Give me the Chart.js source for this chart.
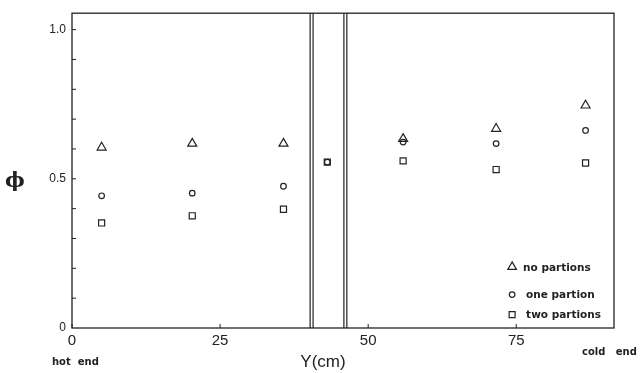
<!DOCTYPE html>
<html>
<head>
<meta charset="utf-8">
<script src="https://cdn.jsdelivr.net/npm/chart.js@4/dist/chart.umd.min.js"></script>
<style>
  html, body { margin: 0; padding: 0; background: #fff; }
  #wrap { width: 643px; height: 373px; position: relative; }
</style>
</head>
<body>
<div id="wrap"><canvas id="phiChart"></canvas></div>
<script>
// positions along the tube (cm)
const positions = [5, 20.3, 35.7, 43.1, 55.9, 71.6, 86.7];
const noPartionsX = [5, 20.3, 35.7, 55.9, 71.6, 86.7];
const noPartions = [0.605, 0.618, 0.618, 0.634, 0.668, 0.746];
const onePartion = [0.443, 0.452, 0.475, 0.556, 0.623, 0.618, 0.662];
const twoPartions = [0.352, 0.376, 0.398, 0.556, 0.56, 0.531, 0.553];

const seriesNames = ["no partions", "one partion", "two partions"];
const seriesStyles = ["triangle", "circle", "rect"];

const xTicks = [0, 25, 50, 75];
const yMinorTicks = [0.1, 0.2, 0.3, 0.4, 0.5, 0.6, 0.7, 0.8, 0.9, 1.0];
const yLabels = { 0: "0", 0.5: "0.5", 1: "1.0" };
// partition walls drawn as two double lines
const wallLines = [40.2, 40.7, 45.9, 46.4];

const ink = "#222";

function pts(xs, ys) {
  return ys.map((y, i) => ({ x: xs[i], y: y }));
}

const decorPlugin = {
  id: "decor",
  afterDraw(chart) {
    const { ctx, chartArea, scales } = chart;
    const xs = scales.x, ys = scales.y;
    ctx.save();
    ctx.strokeStyle = ink;
    ctx.lineWidth = 1.3;
    ctx.strokeRect(chartArea.left, chartArea.top, chartArea.right - chartArea.left, chartArea.bottom - chartArea.top);

    // y minor ticks, inward
    ctx.lineWidth = 1;
    yMinorTicks.forEach(v => {
      const y = ys.getPixelForValue(v);
      ctx.beginPath();
      ctx.moveTo(chartArea.left, y);
      ctx.lineTo(chartArea.left + 4, y);
      ctx.stroke();
    });
    // x ticks, inward
    xTicks.forEach(v => {
      const x = xs.getPixelForValue(v);
      ctx.beginPath();
      ctx.moveTo(x, chartArea.bottom);
      ctx.lineTo(x, chartArea.bottom - 4);
      ctx.stroke();
    });

    // walls
    ctx.lineWidth = 1.2;
    wallLines.forEach(v => {
      const x = xs.getPixelForValue(v);
      ctx.beginPath();
      ctx.moveTo(x, chartArea.top);
      ctx.lineTo(x, chartArea.bottom);
      ctx.stroke();
    });

    // texts
    ctx.fillStyle = ink;
    ctx.textBaseline = "middle";
    ctx.textAlign = "center";
    ctx.font = "17px 'Liberation Sans', sans-serif";
    ctx.fillText("Y(cm)", 323, 362);
    ctx.font = "bold 21px 'DejaVu Serif', serif";
    ctx.fillText("\u03D5", 15, 182);
    ctx.font = "bold 10px 'DejaVu Sans', sans-serif";
    ctx.textAlign = "left";
    ctx.fillText("hot  end", 52, 362);
    ctx.fillText("cold   end", 582, 352);

    // legend
    const lx = xs.getPixelForValue(74.3);
    const rows = [ys.getPixelForValue(0.205), ys.getPixelForValue(0.112), ys.getPixelForValue(0.045)];
    ctx.font = "bold 10.5px 'DejaVu Sans', sans-serif";
    seriesNames.forEach((name, i) => {
      const r = i === 0 ? 5 : (i === 1 ? 2.8 : 4.2);
      ctx.lineWidth = 1.2;
      ctx.fillStyle = "rgba(0,0,0,0)";
      Chart.helpers.drawPoint(ctx, { pointStyle: seriesStyles[i], radius: r, borderWidth: 1.2 }, lx, rows[i]);
      ctx.fillStyle = ink;
      ctx.fillText(name, lx + (i === 0 ? 11 : 14), rows[i] + 1);
    });
    ctx.restore();
  }
};

const datasets = [
  { label: seriesNames[0], data: pts(noPartionsX, noPartions), pointStyle: "triangle", pointRadius: 5.2 },
  { label: seriesNames[1], data: pts(positions, onePartion), pointStyle: "circle", pointRadius: 2.8 },
  { label: seriesNames[2], data: pts(positions, twoPartions), pointStyle: "rect", pointRadius: 4.3 }
].map(d => Object.assign(d, {
  backgroundColor: "rgba(0,0,0,0)",
  borderColor: ink,
  pointBorderWidth: 1.2,
  showLine: false
}));

new Chart(document.getElementById("phiChart"), {
  type: "scatter",
  data: { datasets },
  options: {
    responsive: true,
    maintainAspectRatio: false,
    animation: false,
    layout: { padding: { left: 0, top: 13, right: 29, bottom: 0 } },
    plugins: { legend: { display: false }, tooltip: { enabled: false } },
    scales: {
      x: {
        type: "linear",
        min: 0,
        max: 91.5,
        grid: { display: false, drawTicks: false },
        border: { display: false },
        afterBuildTicks: s => { s.ticks = xTicks.map(v => ({ value: v })); },
        afterFit: s => { s.height = 45; },
        ticks: {
          color: ink,
          padding: 4,
          font: { family: "'Liberation Sans', sans-serif", size: 15 },
          maxRotation: 0
        }
      },
      y: {
        type: "linear",
        min: 0,
        max: 1.055,
        grid: { display: false, drawTicks: false },
        border: { display: false },
        afterBuildTicks: s => { s.ticks = Object.keys(yLabels).map(v => ({ value: Number(v) })); },
        afterFit: s => { s.width = 72; },
        ticks: {
          color: ink,
          padding: 6,
          font: { family: "'Liberation Sans', sans-serif", size: 12 },
          callback: v => yLabels[v]
        }
      }
    }
  },
  plugins: [decorPlugin]
});
</script>
</body>
</html>
